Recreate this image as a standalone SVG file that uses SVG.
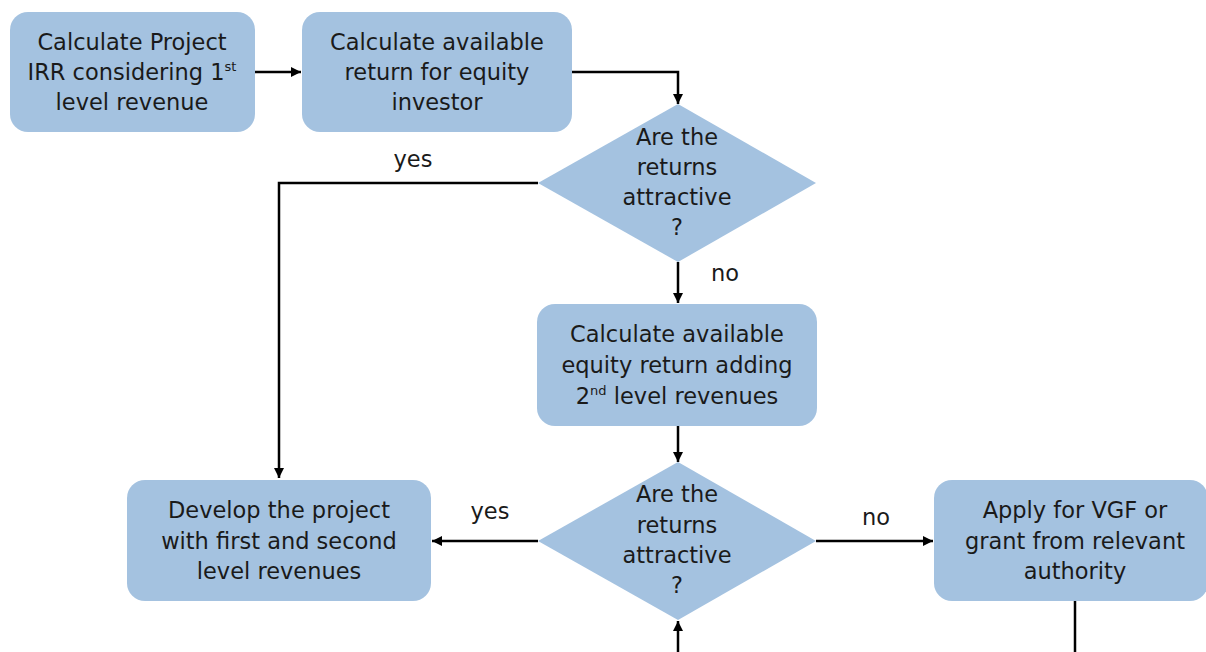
<svg xmlns="http://www.w3.org/2000/svg" width="1206" height="652" viewBox="0 0 1206 652">
  <defs>
    <marker id="arrow" viewBox="0 0 10 10" refX="10" refY="5" markerWidth="10" markerHeight="10" markerUnits="userSpaceOnUse" orient="auto">
      <path d="M0,0 L10,5 L0,10 z" fill="#000"/>
    </marker>
    <style>
      .box { fill: #A4C2E0; }
      .lbl { font-family: "DejaVu Sans", "Liberation Sans", sans-serif; font-size: 22.5px; fill: #1a1a1a; text-anchor: middle; }
      .edge { fill: none; stroke: #000; stroke-width: 2.5; }
      .sup { font-size: 13px; }
    </style>
  </defs>
  <rect width="1206" height="652" fill="#fff"/>

  <!-- connectors -->
  <g id="connectors">
    <path class="edge" d="M255,72 H301" marker-end="url(#arrow)"/>
    <path class="edge" d="M572,72 H678 V104" marker-end="url(#arrow)"/>
    <path class="edge" d="M538,183 H279 V478" marker-end="url(#arrow)"/>
    <path class="edge" d="M678,262 V303" marker-end="url(#arrow)"/>
    <path class="edge" d="M678,426 V462" marker-end="url(#arrow)"/>
    <path class="edge" d="M538,541 H432" marker-end="url(#arrow)"/>
    <path class="edge" d="M816,541 H933" marker-end="url(#arrow)"/>
    <path class="edge" d="M1075,601 V652"/>
    <path class="edge" d="M678,652 V621" marker-end="url(#arrow)"/>
    <text class="lbl" x="413" y="167">yes</text>
    <text class="lbl" x="725" y="281">no</text>
    <text class="lbl" x="490" y="519">yes</text>
    <text class="lbl" x="876" y="525">no</text>
  </g>

  <g id="irr">
    <rect class="box" x="10" y="12" width="245" height="120" rx="18"/>
    <text class="lbl" x="132" y="50">Calculate Project</text>
    <text class="lbl" x="132" y="80">IRR considering 1<tspan class="sup" dy="-9">st</tspan></text>
    <text class="lbl" x="132" y="110">level revenue</text>
  </g>

  <g id="equity-return">
    <rect class="box" x="302" y="12" width="270" height="120" rx="18"/>
    <text class="lbl" x="437" y="50">Calculate available</text>
    <text class="lbl" x="437" y="80">return for equity</text>
    <text class="lbl" x="437" y="110">investor</text>
  </g>

  <g id="decision-1">
    <polygon class="box" points="678,104 816,183 678,262 538,183"/>
    <text class="lbl" x="677" y="145">Are the</text>
    <text class="lbl" x="677" y="175">returns</text>
    <text class="lbl" x="677" y="205">attractive</text>
    <text class="lbl" x="677" y="235">?</text>
  </g>

  <g id="second-level">
    <rect class="box" x="537" y="304" width="280" height="122" rx="18"/>
    <text class="lbl" x="677" y="342">Calculate available</text>
    <text class="lbl" x="677" y="373">equity return adding</text>
    <text class="lbl" x="677" y="404">2<tspan class="sup" dy="-9">nd</tspan><tspan dy="9"> level revenues</tspan></text>
  </g>

  <g id="decision-2">
    <polygon class="box" points="678,462 816,541 678,620 538,541"/>
    <text class="lbl" x="677" y="502">Are the</text>
    <text class="lbl" x="677" y="533">returns</text>
    <text class="lbl" x="677" y="563">attractive</text>
    <text class="lbl" x="677" y="593">?</text>
  </g>

  <g id="develop">
    <rect class="box" x="127" y="480" width="304" height="121" rx="18"/>
    <text class="lbl" x="279" y="518">Develop the project</text>
    <text class="lbl" x="279" y="549">with first and second</text>
    <text class="lbl" x="279" y="579">level revenues</text>
  </g>

  <g id="vgf">
    <rect class="box" x="934" y="480" width="274" height="121" rx="18"/>
    <text class="lbl" x="1075" y="518">Apply for VGF or</text>
    <text class="lbl" x="1075" y="549">grant from relevant</text>
    <text class="lbl" x="1075" y="579">authority</text>
  </g>
</svg>
